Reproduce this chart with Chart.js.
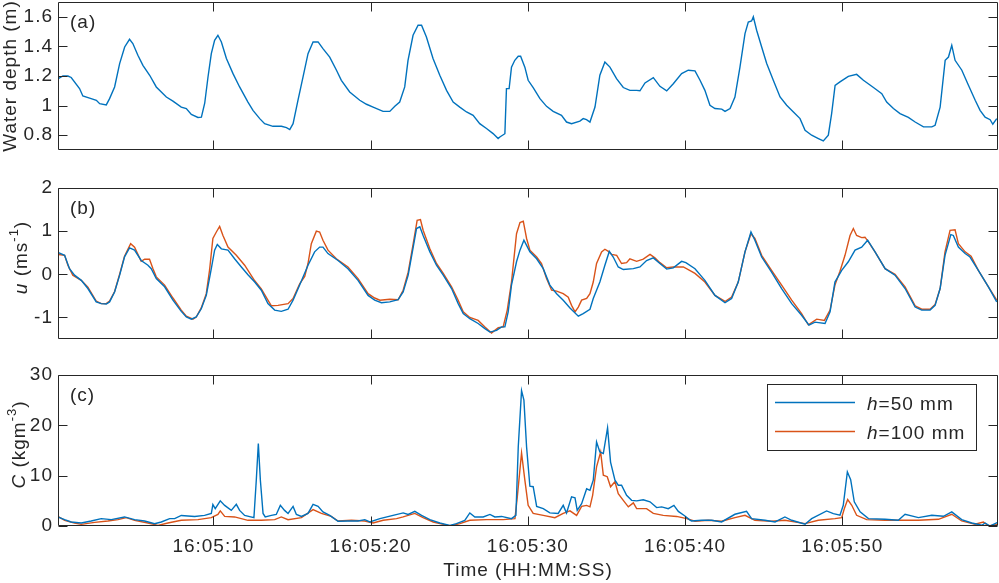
<!DOCTYPE html>
<html>
<head>
<meta charset="utf-8">
<title>Water depth, velocity and concentration</title>
<script src="https://cdn.jsdelivr.net/npm/chart.js@4.4.1/dist/chart.umd.min.js"></script>
<style>
  html, body { margin: 0; padding: 0; background: #ffffff; }
  #wrap { position: relative; width: 999px; height: 583px; overflow: hidden; }
  #wrap canvas { position: absolute; left: 0; top: 0; }
</style>
</head>
<body>
<div id="wrap">
  <canvas id="depthChart" width="999" height="583"></canvas>
  <canvas id="velocityChart" width="999" height="583"></canvas>
  <canvas id="concChart" width="999" height="583"></canvas>
</div>
<script>
// time in seconds after 16:05:00
const timeMin = 0.12;
const timeMax = 59.9;
const timeTicks = [10, 20, 30, 40, 50];
const timeTickLabels = ["16:05:10", "16:05:20", "16:05:30", "16:05:40", "16:05:50"];

const depthTicks = [0.8, 1, 1.2, 1.4, 1.6];
const velocityTicks = [-1, 0, 1, 2];
const concTicks = [0, 10, 20, 30];

const sensorLabels = ["h=50 mm", "h=100 mm"];

// (a) water depth (m)
const depthTime = [0.11, 0.43, 0.75, 0.96, 1.49, 1.70, 2.13, 2.56, 2.77, 3.19, 3.40, 3.72, 4.04, 4.36, 4.67, 4.88, 5.20, 5.52, 5.95, 6.37,
  7.01, 7.43, 7.96, 8.28, 8.60, 9.02, 9.24, 9.45, 9.66, 9.87, 10.08, 10.29, 10.51, 10.83, 11.25, 11.67, 12.20, 12.52, 12.95, 13.26,
  13.79, 14.33, 14.65, 14.86, 15.07, 15.38, 15.70, 16.02, 16.34, 16.66, 16.97, 17.40, 17.83, 18.14, 18.67, 19.31, 19.74, 20.16, 20.79, 21.22,
  21.54, 21.85, 22.17, 22.38, 22.70, 23.02, 23.24, 23.55, 23.97, 24.40, 24.83, 25.25, 25.67, 26.10, 26.52, 26.94, 27.37, 27.79, 28.11, 28.22,
  28.54, 28.64, 28.81, 28.96, 29.17, 29.39, 29.54, 29.81, 30.02, 30.34, 30.77, 31.19, 31.61, 32.14, 32.46, 32.78, 33.31, 33.52, 33.73, 33.95,
  34.27, 34.58, 34.90, 35.22, 35.64, 36.07, 36.49, 36.92, 37.13, 37.45, 37.98, 38.40, 38.83, 39.25, 39.78, 40.20, 40.63, 40.95, 41.26, 41.58,
  41.90, 42.33, 42.54, 42.86, 43.17, 43.49, 43.81, 44.02, 44.23, 44.34, 44.55, 44.87, 45.19, 45.61, 46.04, 46.46, 46.89, 47.31, 47.63, 48.05,
  48.48, 48.79, 49.11, 49.32, 49.54, 49.85, 50.38, 50.91, 51.34, 51.98, 52.51, 52.82, 53.25, 53.67, 54.20, 54.63, 55.16, 55.69, 55.90, 56.22,
  56.54, 56.75, 56.96, 57.17, 57.60, 58.02, 58.45, 58.76, 59.08, 59.40, 59.57, 59.82];
const depthValue = [1.18, 1.20, 1.20, 1.19, 1.115, 1.065, 1.05, 1.036, 1.013, 1.005, 1.047, 1.126, 1.284, 1.396, 1.448, 1.419, 1.34, 1.272, 1.205, 1.126,
  1.058, 1.03, 0.99, 0.98, 0.94, 0.92, 0.922, 1.016, 1.193, 1.351, 1.441, 1.475, 1.43, 1.318, 1.216, 1.126, 1.024, 0.968, 0.912, 0.878,
  0.86, 0.86, 0.851, 0.838, 0.878, 1.036, 1.193, 1.351, 1.43, 1.43, 1.385, 1.328, 1.239, 1.171, 1.092, 1.036, 1.009, 0.99, 0.961, 0.961,
  0.995, 1.024, 1.126, 1.306, 1.475, 1.543, 1.543, 1.464, 1.318, 1.205, 1.103, 1.024, 0.99, 0.957, 0.934, 0.878, 0.845, 0.811, 0.777, 0.788,
  0.81, 1.115, 1.115, 1.26, 1.306, 1.333, 1.333, 1.26, 1.171, 1.122, 1.047, 0.995, 0.961, 0.934, 0.889, 0.878, 0.895, 0.912, 0.905, 0.889,
  0.99, 1.205, 1.295, 1.26, 1.182, 1.122, 1.103, 1.103, 1.10, 1.153, 1.189, 1.13, 1.099, 1.148, 1.216, 1.239, 1.235, 1.171, 1.103, 1.002,
  0.98, 0.976, 0.961, 0.98, 1.058, 1.26, 1.486, 1.565, 1.572, 1.60, 1.509, 1.396, 1.284, 1.171, 1.058, 1.002, 0.957, 0.912, 0.833, 0.80,
  0.777, 0.761, 0.80, 0.946, 1.137, 1.16, 1.198, 1.211, 1.171, 1.122, 1.081, 1.024, 0.98, 0.946, 0.92, 0.889, 0.856, 0.856, 0.867, 0.99,
  1.306, 1.328, 1.407, 1.306, 1.239, 1.137, 1.036, 0.968, 0.922, 0.905, 0.874, 0.912];

// (b) velocity u (m/s), h = 50 mm
const u50Time = [0.15, 0.54, 0.85, 1.17, 1.60, 2.02, 2.55, 2.87, 3.19, 3.40, 3.72, 4.04, 4.35, 4.67, 4.99, 5.41, 5.84, 6.05, 6.37, 6.90,
  7.43, 7.96, 8.28, 8.60, 8.91, 9.23, 9.55, 9.87, 10.08, 10.25, 10.51, 10.93, 11.35, 11.78, 12.20, 12.63, 13.05, 13.47, 13.90, 14.32,
  14.75, 15.07, 15.49, 16.02, 16.44, 16.76, 16.97, 17.29, 17.93, 18.56, 19.20, 19.84, 20.26, 20.69, 21.22, 21.75, 22.07, 22.39, 22.71, 22.92,
  23.13, 23.34, 23.77, 24.19, 24.62, 25.15, 25.57, 25.89, 26.31, 26.84, 27.27, 27.59, 28.01, 28.33, 28.54, 28.75, 28.96, 29.28, 29.50, 29.75,
  29.92, 30.13, 30.56, 30.98, 31.40, 31.83, 32.25, 32.68, 33.21, 33.52, 33.95, 34.16, 34.58, 34.90, 35.18, 35.43, 35.75, 36.07, 36.71, 37.13,
  37.55, 37.98, 38.40, 38.83, 39.25, 39.78, 40.05, 40.63, 41.26, 41.90, 42.54, 42.96, 43.38, 43.81, 44.19, 44.44, 44.87, 45.50, 46.14, 46.78,
  47.41, 47.88, 48.26, 48.90, 49.22, 49.53, 49.96, 50.38, 50.81, 51.23, 51.61, 52.08, 52.72, 53.35, 53.99, 54.63, 55.05, 55.58, 55.90, 56.22,
  56.53, 56.90, 57.06, 57.38, 57.81, 58.12, 58.65, 59.29, 59.82];
const u50Value = [0.50, 0.44, 0.13, -0.02, -0.14, -0.33, -0.64, -0.68, -0.69, -0.64, -0.41, -0.02, 0.40, 0.61, 0.56, 0.32, 0.21, 0.13, -0.10, -0.29,
  -0.60, -0.86, -0.99, -1.04, -0.99, -0.80, -0.49, 0.13, 0.56, 0.69, 0.59, 0.56, 0.36, 0.17, -0.01, -0.18, -0.37, -0.68, -0.83, -0.86,
  -0.81, -0.60, -0.25, 0.21, 0.52, 0.63, 0.63, 0.48, 0.32, 0.13, -0.14, -0.49, -0.60, -0.66, -0.64, -0.59, -0.41, -0.02, 0.63, 1.06,
  1.10, 0.90, 0.52, 0.21, -0.02, -0.33, -0.68, -0.91, -1.03, -1.14, -1.26, -1.34, -1.30, -1.22, -1.22, -0.87, -0.25, 0.29, 0.56, 0.79,
  0.67, 0.52, 0.36, 0.13, -0.25, -0.45, -0.60, -0.78, -0.97, -0.91, -0.81, -0.56, -0.18, 0.21, 0.53, 0.40, 0.17, 0.11, 0.13, 0.17,
  0.32, 0.38, 0.25, 0.12, 0.15, 0.30, 0.27, 0.13, -0.14, -0.49, -0.66, -0.56, -0.18, 0.52, 0.98, 0.79, 0.40, 0.05, -0.33, -0.68,
  -0.95, -1.18, -1.11, -1.14, -0.87, -0.18, 0.09, 0.29, 0.56, 0.63, 0.79, 0.52, 0.13, -0.02, -0.33, -0.76, -0.83, -0.83, -0.72, -0.33,
  0.44, 0.92, 0.90, 0.63, 0.48, 0.40, 0.09, -0.29, -0.64];

// (b) velocity u (m/s), h = 100 mm
const u100Time = [0.15, 0.54, 0.75, 1.06, 1.60, 2.02, 2.55, 2.87, 3.19, 3.40, 3.72, 4.04, 4.35, 4.74, 4.99, 5.41, 5.63, 5.94, 6.16, 6.37,
  6.90, 7.43, 7.96, 8.28, 8.70, 8.91, 9.23, 9.55, 9.76, 9.97, 10.19, 10.40, 10.61, 10.93, 11.46, 11.99, 12.63, 13.05, 13.47, 13.69,
  14.11, 14.75, 15.07, 15.49, 15.81, 16.02, 16.23, 16.55, 16.76, 16.97, 17.29, 17.82, 18.56, 19.20, 19.84, 20.26, 20.59, 21.22, 21.75, 22.07,
  22.39, 22.71, 22.96, 23.17, 23.34, 23.77, 24.19, 24.62, 25.15, 25.57, 25.89, 26.31, 26.84, 27.27, 27.69, 27.90, 28.12, 28.43, 28.69, 28.96,
  29.28, 29.50, 29.71, 29.92, 30.13, 30.56, 30.87, 31.19, 31.51, 31.83, 32.25, 32.57, 32.78, 33.00, 33.21, 33.42, 33.74, 33.95, 34.16, 34.37,
  34.69, 34.90, 35.12, 35.33, 35.65, 35.96, 36.28, 36.49, 36.92, 37.34, 37.77, 38.08, 38.40, 38.83, 39.25, 39.89, 40.63, 41.26, 41.90, 42.54,
  42.96, 43.38, 43.81, 44.19, 44.44, 44.87, 45.50, 46.14, 46.78, 47.41, 47.84, 48.37, 48.86, 49.22, 49.53, 49.85, 50.17, 50.49, 50.70, 50.91,
  51.23, 51.44, 51.66, 52.08, 52.72, 53.35, 53.99, 54.63, 55.05, 55.58, 55.90, 56.22, 56.53, 56.85, 57.17, 57.38, 57.81, 58.19, 58.65, 59.29,
  59.82];
const u100Value = [0.46, 0.44, 0.21, -0.02, -0.14, -0.30, -0.62, -0.68, -0.68, -0.62, -0.40, 0.00, 0.42, 0.71, 0.63, 0.30, 0.35, 0.35, 0.13, -0.06,
  -0.25, -0.55, -0.83, -0.97, -1.04, -0.99, -0.78, -0.45, 0.10, 0.83, 0.98, 1.11, 0.90, 0.63, 0.44, 0.21, -0.15, -0.34, -0.60, -0.73,
  -0.72, -0.68, -0.56, -0.22, -0.05, 0.25, 0.71, 1.00, 0.98, 0.79, 0.56, 0.36, 0.17, -0.10, -0.45, -0.55, -0.60, -0.58, -0.59, -0.37,
  0.05, 0.71, 1.25, 1.27, 1.02, 0.59, 0.25, 0.02, -0.29, -0.60, -0.87, -1.00, -1.07, -1.22, -1.36, -1.30, -1.24, -1.22, -0.83, -0.18,
  0.94, 1.20, 1.23, 0.83, 0.56, 0.40, 0.25, -0.10, -0.37, -0.39, -0.45, -0.53, -0.72, -0.87, -0.76, -0.60, -0.56, -0.45, -0.18, 0.25,
  0.52, 0.58, 0.53, 0.46, 0.44, 0.25, 0.27, 0.36, 0.30, 0.35, 0.46, 0.38, 0.27, 0.15, 0.17, 0.17, 0.02, -0.18, -0.49, -0.63,
  -0.53, -0.18, 0.52, 0.94, 0.83, 0.44, 0.09, -0.25, -0.60, -0.91, -1.17, -1.04, -1.07, -0.83, -0.25, 0.07, 0.44, 0.90, 1.06, 0.90,
  0.85, 0.86, 0.75, 0.52, 0.13, 0.00, -0.29, -0.73, -0.81, -0.81, -0.70, -0.33, 0.52, 1.02, 1.03, 0.71, 0.52, 0.42, 0.09, -0.29,
  -0.60];

// (c) concentration C (kg/m3), h = 50 mm
const c50Time = [0.11, 0.54, 0.96, 1.60, 2.23, 2.87, 3.51, 4.35, 4.99, 5.63, 6.26, 6.69, 7.22, 7.54, 7.96, 8.81, 9.44, 9.87, 9.97, 10.12,
  10.44, 10.72, 11.14, 11.46, 11.67, 11.99, 12.58, 12.73, 12.86, 12.99, 13.16, 13.30, 13.69, 14.00, 14.26, 14.53, 14.75, 15.07, 15.28, 15.60,
  16.02, 16.34, 16.66, 16.97, 17.40, 17.93, 18.56, 19.20, 19.63, 19.95, 20.59, 21.43, 22.07, 22.39, 22.81, 23.24, 23.77, 24.40, 25.04, 25.46,
  25.99, 26.31, 26.63, 27.16, 27.59, 27.90, 28.33, 28.96, 29.24, 29.39, 29.60, 29.75, 29.92, 30.13, 30.34, 30.56, 30.98, 31.40, 31.93, 32.25,
  32.46, 32.78, 33.00, 33.14, 33.42, 33.74, 33.95, 34.16, 34.37, 34.58, 34.80, 35.07, 35.26, 35.54, 35.75, 35.96, 36.28, 36.60, 36.92, 37.34,
  37.77, 38.19, 38.51, 38.93, 39.29, 39.57, 39.99, 40.27, 40.41, 41.05, 41.69, 42.32, 43.17, 43.91, 44.23, 45.08, 45.72, 46.35, 46.78, 47.63,
  48.05, 49.00, 49.43, 49.85, 50.06, 50.32, 50.53, 50.76, 51.13, 51.66, 52.72, 53.56, 53.99, 54.84, 55.69, 56.43, 56.96, 57.59, 58.23, 58.87,
  59.08, 59.40, 59.93];
const c50Value = [1.8, 1.26, 0.8, 0.6, 1.0, 1.46, 1.26, 1.8, 1.26, 1.0, 0.46, 0.8, 1.46, 1.46, 2.1, 1.9, 2.1, 2.5, 4.25, 3.45,
  5.0, 4.1, 3.1, 4.3, 3.1, 2.1, 1.66, 9.1, 16.4, 9.1, 2.5, 1.8, 2.1, 2.3, 4.1, 3.1, 2.5, 3.9, 2.3, 1.9,
  2.5, 4.3, 3.9, 2.8, 2.1, 0.93, 1.0, 1.0, 1.26, 0.8, 1.46, 2.1, 2.6, 2.3, 2.9, 2.1, 1.26, 0.6, 0.13, 0.46,
  1.13, 2.6, 1.8, 1.8, 2.3, 1.8, 1.9, 1.46, 2.1, 15.7, 26.9, 25.0, 15.7, 7.9, 7.8, 3.9, 3.45, 2.6, 2.5, 4.1,
  2.6, 5.8, 5.6, 3.1, 4.45, 7.4, 7.1, 9.1, 16.7, 14.7, 14.4, 19.5, 12.7, 9.1, 8.1, 8.1, 6.1, 5.1, 5.0, 5.2,
  4.8, 3.65, 3.8, 3.45, 4.1, 2.9, 2.0, 1.26, 1.0, 1.14, 1.14, 0.8, 2.33, 2.93, 1.47, 1.14, 0.8, 1.8, 1.14, 0.34,
  1.47, 3.0, 2.46, 2.13, 4.12, 10.76, 9.2, 4.8, 2.8, 1.47, 1.33, 1.14, 2.33, 1.67, 2.13, 1.93, 2.8, 1.27, 0.6, 0.14,
  0.6, 0.0, 0.8];

// (c) concentration C (kg/m3), h = 100 mm
const c100Time = [0.11, 0.54, 1.17, 1.60, 2.45, 3.29, 3.93, 4.46, 4.99, 5.84, 6.48, 7.11, 7.96, 9.02, 9.87, 10.29, 10.44, 10.72, 11.35, 12.20,
  13.05, 13.90, 14.32, 14.75, 15.60, 16.34, 16.87, 17.50, 17.93, 18.78, 19.63, 20.16, 20.80, 21.65, 22.07, 22.81, 23.34, 23.98, 24.62, 25.04,
  25.68, 26.31, 27.37, 28.43, 29.18, 29.33, 29.60, 29.81, 30.02, 30.34, 30.98, 31.72, 32.25, 32.68, 33.10, 33.42, 33.74, 33.95, 34.12, 34.37,
  34.63, 34.80, 35.05, 35.26, 35.54, 35.75, 36.07, 36.39, 36.71, 36.92, 37.55, 37.98, 38.61, 39.46, 40.10, 40.63, 41.47, 42.32, 43.17, 43.81,
  44.44, 45.50, 46.35, 47.63, 48.47, 49.53, 49.96, 50.13, 50.34, 50.60, 50.91, 51.55, 52.72, 53.78, 54.84, 56.11, 56.96, 57.59, 58.44, 58.97,
  59.29, 59.93];
const c100Value = [1.9, 1.13, 0.6, 0.33, 0.73, 1.0, 1.26, 1.66, 1.13, 0.6, 0.13, 0.6, 1.13, 1.26, 1.66, 2.3, 3.0, 1.9, 1.8, 1.13,
  1.13, 1.26, 1.8, 1.26, 1.66, 3.25, 2.5, 1.9, 1.0, 1.13, 1.0, 0.6, 1.13, 1.46, 1.8, 2.5, 1.66, 0.8, 0.33, 0.0,
  0.46, 1.13, 1.26, 1.26, 1.46, 5.8, 14.5, 9.1, 4.1, 2.5, 2.1, 1.66, 2.5, 3.0, 2.1, 3.9, 4.1, 3.8, 6.1, 11.75,
  14.7, 10.1, 9.8, 7.8, 8.8, 6.4, 5.1, 3.8, 4.6, 3.45, 3.45, 2.5, 2.1, 1.9, 1.46, 0.94, 1.14, 0.94, 1.67, 2.13,
  1.14, 0.94, 1.14, 0.47, 1.14, 1.47, 1.67, 3.46, 5.25, 4.12, 2.13, 1.27, 1.14, 1.14, 1.14, 1.33, 2.33, 1.0, 0.34, 0.8,
  0.0, 0.34];

const BLUE = "#0072BD";
const ORANGE = "#D95319";
const INK = "#262626";
const FONT_FAMILY = "'Liberation Sans', Arial, Helvetica, sans-serif";
const FONT_SIZE = 19;
const SUP_SIZE = 13;
const SUP_RISE = 9;
const LETTER_SPACING = "1px";
const TICK_LEN = 9;
const PLOT_LEFT = 58;
const PLOT_RIGHT = 998;

const toPoints = (ts, vs) => ts.map((t, i) => ({ x: t, y: vs[i] }));

const fontFor = (part) =>
  (part.italic ? "italic " : "") + (part.sup ? SUP_SIZE : FONT_SIZE) + "px " + FONT_FAMILY;

function richWidth(ctx, parts) {
  return parts.reduce((w, p) => {
    ctx.font = fontFor(p);
    return w + ctx.measureText(p.text).width;
  }, 0);
}

function drawRich(ctx, parts, x, y) {
  let cx = x;
  parts.forEach((p) => {
    ctx.font = fontFor(p);
    ctx.fillText(p.text, cx, p.sup ? y - SUP_RISE : y);
    cx += ctx.measureText(p.text).width;
  });
}

// h in italics, rest upright
const legendParts = sensorLabels.map((s) => [{ text: s.slice(0, 1), italic: true }, { text: s.slice(1) }]);

const matlabAxes = {
  id: "matlabAxes",
  beforeDraw(chart) {
    chart.ctx.letterSpacing = LETTER_SPACING;
  },
  afterDraw(chart, args, opts) {
    const { ctx, chartArea: a } = chart;
    const xs = chart.scales.x;
    const ys = chart.scales.y;
    const L = Math.round(a.left) + 0.5;
    const R = Math.round(a.right) - 0.5;
    const T = Math.round(a.top) + 0.5;
    const B = Math.round(a.bottom) - 0.5;

    ctx.save();
    ctx.letterSpacing = LETTER_SPACING;
    ctx.strokeStyle = INK;
    ctx.lineWidth = 1;
    ctx.beginPath();
    ctx.rect(L, T, R - L, B - T);
    xs.ticks.forEach((t) => {
      const x = Math.round(xs.getPixelForValue(t.value)) + 0.5;
      ctx.moveTo(x, T); ctx.lineTo(x, T + TICK_LEN);
      ctx.moveTo(x, B); ctx.lineTo(x, B - TICK_LEN);
    });
    ys.ticks.forEach((t) => {
      const y = Math.round(ys.getPixelForValue(t.value)) + 0.5;
      ctx.moveTo(L, y); ctx.lineTo(L + TICK_LEN, y);
      ctx.moveTo(R, y); ctx.lineTo(R - TICK_LEN, y);
    });
    ctx.stroke();

    ctx.fillStyle = INK;
    ctx.textAlign = "left";
    ctx.textBaseline = "alphabetic";
    ctx.font = FONT_SIZE + "px " + FONT_FAMILY;
    ctx.fillText(opts.tag, a.left + 12, a.top + 26);

    // y label, reads bottom to top
    ctx.save();
    ctx.translate(opts.titleX, (a.top + a.bottom) / 2 + opts.titleShift);
    ctx.rotate(-Math.PI / 2);
    drawRich(ctx, opts.title, -richWidth(ctx, opts.title) / 2, 0);
    ctx.restore();

    if (opts.xTitle) {
      ctx.font = FONT_SIZE + "px " + FONT_FAMILY;
      ctx.textAlign = "center";
      ctx.textBaseline = "middle";
      ctx.fillText(opts.xTitle, (a.left + a.right) / 2, opts.xTitleY);
      ctx.textAlign = "left";
      ctx.textBaseline = "alphabetic";
    }

    if (opts.legend) {
      const box = opts.legend;
      ctx.fillStyle = "#ffffff";
      ctx.fillRect(box.left, box.top, box.width, box.height);
      ctx.strokeStyle = INK;
      ctx.lineWidth = 1;
      ctx.strokeRect(box.left + 0.5, box.top + 0.5, box.width, box.height);
      chart.data.datasets.forEach((ds, i) => {
        const y = box.top + 18.5 + i * 29;
        ctx.strokeStyle = ds.borderColor;
        ctx.lineWidth = ds.borderWidth;
        ctx.beginPath();
        ctx.moveTo(box.left + 8, y);
        ctx.lineTo(box.left + 88, y);
        ctx.stroke();
        ctx.fillStyle = INK;
        drawRich(ctx, legendParts[i], box.left + 100, y + 7);
      });
    }
    ctx.restore();
  },
};

function makeChart(id, datasets, panel) {
  return new Chart(document.getElementById(id), {
    type: "line",
    data: { datasets },
    plugins: [matlabAxes],
    options: {
      responsive: false,
      animation: false,
      events: [],
      layout: {
        autoPadding: false,
        padding: { left: 0, right: 999 - PLOT_RIGHT, top: panel.top, bottom: 583 - panel.bottom - panel.xHeight },
      },
      elements: { point: { radius: 0 }, line: { tension: 0 } },
      plugins: {
        legend: { display: false },
        tooltip: { enabled: false },
        matlabAxes: panel.decor,
      },
      scales: {
        x: {
          type: "linear",
          min: timeMin,
          max: timeMax,
          grid: { display: false, drawTicks: false },
          border: { display: false },
          afterBuildTicks: (s) => { s.ticks = timeTicks.map((v) => ({ value: v })); },
          afterFit: (s) => {
            s.height = panel.xHeight;
            s.paddingLeft = 0; s.paddingRight = 0;
          },
          ticks: {
            display: panel.xHeight > 0,
            autoSkip: false,
            maxRotation: 0,
            padding: 9,
            color: INK,
            font: { family: FONT_FAMILY, size: FONT_SIZE },
            callback: (v) => timeTickLabels[timeTicks.indexOf(v)],
          },
        },
        y: {
          min: panel.min,
          max: panel.max,
          grid: { display: false, drawTicks: false },
          border: { display: false },
          afterBuildTicks: (s) => { s.ticks = panel.ticks.map((v) => ({ value: v })); },
          afterFit: (s) => {
            s.width = PLOT_LEFT;
            s.paddingTop = 0; s.paddingBottom = 0;
          },
          ticks: {
            padding: 5,
            color: INK,
            font: { family: FONT_FAMILY, size: FONT_SIZE },
            callback: (v) => String(v),
          },
        },
      },
    },
  });
}

const lineStyle = (color) => ({ borderColor: color, backgroundColor: color, borderWidth: 1.4, fill: false });

makeChart("depthChart", [
  { label: "Water depth", data: toPoints(depthTime, depthValue), ...lineStyle(BLUE) },
], {
  top: 2, bottom: 150, xHeight: 0, min: 0.7, max: 1.7, ticks: depthTicks,
  decor: { tag: "(a)", titleX: 15.5, titleShift: 0, title: [{ text: "Water depth (m)" }] },
});

makeChart("velocityChart", [
  { label: sensorLabels[0], data: toPoints(u50Time, u50Value), ...lineStyle(BLUE) },
  { label: sensorLabels[1], data: toPoints(u100Time, u100Value), ...lineStyle(ORANGE) },
], {
  top: 188, bottom: 339, xHeight: 0, min: -1.5, max: 2, ticks: velocityTicks,
  decor: {
    tag: "(b)", titleX: 27, titleShift: -6,
    title: [{ text: "u", italic: true }, { text: " (ms" }, { text: "-1", sup: true }, { text: ")" }],
  },
});

makeChart("concChart", [
  { label: sensorLabels[0], data: toPoints(c50Time, c50Value), ...lineStyle(BLUE) },
  { label: sensorLabels[1], data: toPoints(c100Time, c100Value), ...lineStyle(ORANGE) },
], {
  top: 375, bottom: 526, xHeight: 40, min: 0, max: 30, ticks: concTicks,
  decor: {
    tag: "(c)", titleX: 25, titleShift: -6,
    title: [{ text: "C", italic: true }, { text: " (kgm" }, { text: "-3", sup: true }, { text: ")" }],
    xTitle: "Time (HH:MM:SS)", xTitleY: 571,
    legend: { left: 767, top: 384, width: 209, height: 66 },
  },
});
</script>
</body>
</html>
